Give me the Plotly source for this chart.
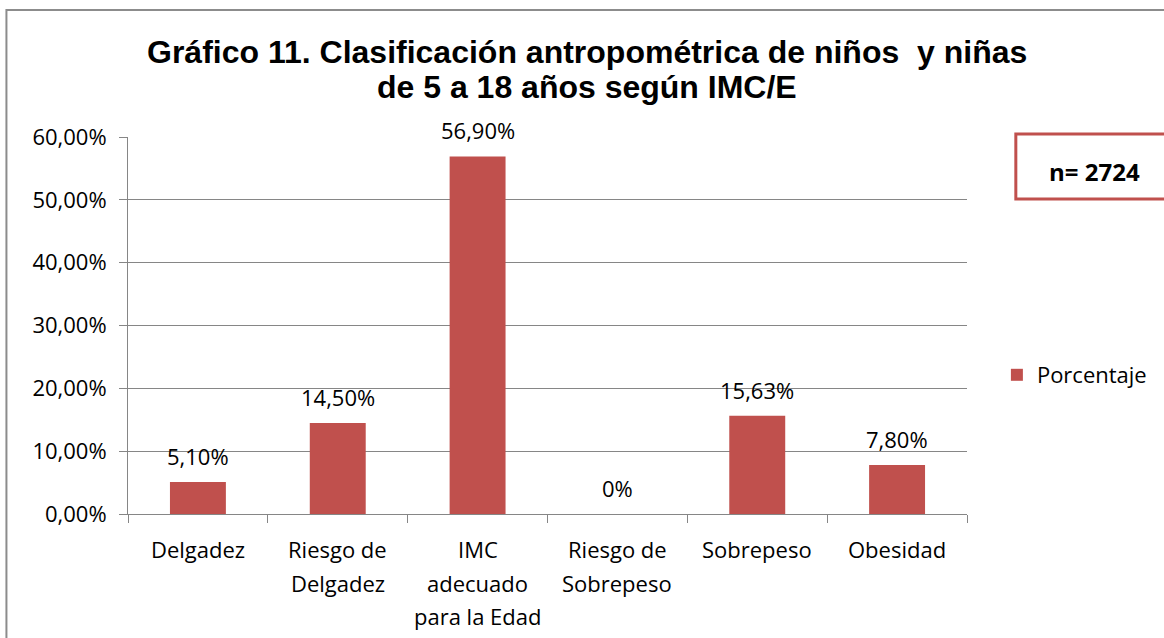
import plotly.graph_objects as go

title_lines = ["Gráfico 11. Clasificación antropométrica de niños  y niñas",
               "de 5 a 18 años según IMC/E"]
categories = ["Delgadez", "Riesgo de Delgadez", "IMC adecuado para la Edad",
              "Riesgo de Sobrepeso", "Sobrepeso", "Obesidad"]
category_lines = [["Delgadez"], ["Riesgo de", "Delgadez"], ["IMC", "adecuado", "para la Edad"],
                  ["Riesgo de", "Sobrepeso"], ["Sobrepeso"], ["Obesidad"]]
values = [5.10, 14.50, 56.90, 0.0, 15.63, 7.80]
labels = ["5,10%", "14,50%", "56,90%", "0%", "15,63%", "7,80%"]
y_ticks = [0, 10, 20, 30, 40, 50, 60]
y_tick_labels = ["0,00%", "10,00%", "20,00%", "30,00%", "40,00%", "50,00%", "60,00%"]

W, H = 1164, 638
L, R, T, B = 128, 194, 137, 124
pw, ph = W - L - R, H - T - B

def px(x):
    return (x - L) / pw

def py(y):
    return (H - B - y) / ph

BAR = "#C0504D"
GRID = "#868686"
FONT = "Open Sans"
FS = 22

fig = go.Figure()
fig.add_trace(go.Bar(
    x=categories, y=values, name="Porcentaje",
    marker=dict(color=BAR, line=dict(width=0)),
    width=0.4,
))

annotations = [
    dict(text="<b>n= 2724</b>", xref="paper", yref="paper", x=px(1098), y=py(171),
         xanchor="center", yanchor="middle", showarrow=False,
         font=dict(family=FONT, size=24, color="#000000")),
]
for i, line in enumerate(title_lines):
    annotations.append(dict(text="<b>" + line + "</b>", xref="paper", yref="paper",
                            x=px(589), y=py(52 + 35 * i), xanchor="center", yanchor="middle",
                            showarrow=False,
                            font=dict(family="Liberation Sans", size=32, color="#000000")))
for c, v, t in zip(categories, values, labels):
    annotations.append(dict(text=t, x=c, y=v, xref="x", yref="y", yshift=26,
                            xanchor="center", yanchor="middle", showarrow=False,
                            font=dict(family=FONT, size=FS, color="#000000")))
for c, lines in zip(categories, category_lines):
    for i, line in enumerate(lines):
        annotations.append(dict(text=line, x=c, xref="x", yref="paper", y=py(549 + 33.5 * i),
                                xanchor="center", yanchor="middle", showarrow=False,
                                font=dict(family=FONT, size=FS, color="#000000")))

fig.update_layout(
    width=W, height=H,
    margin=dict(l=L, r=R, t=T, b=B, pad=0),
    paper_bgcolor="white", plot_bgcolor="white",
    font=dict(family=FONT, size=FS, color="#000000"),
    showlegend=True,
    legend=dict(x=px(1000), y=py(375), xanchor="left", yanchor="middle",
                font=dict(family=FONT, size=FS), bgcolor="rgba(0,0,0,0)",
                itemwidth=30),
    xaxis=dict(
        showline=True, linecolor=GRID, linewidth=1,
        ticks="outside", ticklen=8, tickcolor=GRID, tickson="boundaries",
        showticklabels=False, showgrid=False,
    ),
    yaxis=dict(
        range=[0, 60], tickvals=y_ticks, ticktext=y_tick_labels,
        showline=True, linecolor=GRID, linewidth=1,
        ticks="outside", ticklen=8, tickcolor=GRID,
        showgrid=True, gridcolor=GRID, gridwidth=1,
        tickfont=dict(family=FONT, size=FS),
        ticklabelstandoff=8,
        zeroline=False,
    ),
    shapes=[
        dict(type="rect", xref="paper", yref="paper",
             x0=px(6), x1=px(1200), y0=py(680), y1=py(10),
             line=dict(color="#8C8C8C", width=2), fillcolor="rgba(0,0,0,0)"),
        dict(type="rect", xref="paper", yref="paper",
             x0=px(1019), x1=px(1190), y0=py(199), y1=py(134),
             line=dict(color=BAR, width=3), fillcolor="white"),
    ],
    annotations=annotations,
)

fig.write_html("out.html", config={"displayModeBar": False},
               post_script="document.body.style.margin='0';")
